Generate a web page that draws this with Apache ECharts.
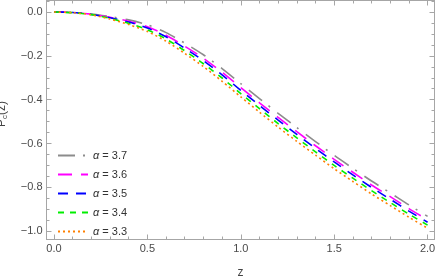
<!DOCTYPE html>
<html>
<head>
<meta charset="utf-8">
<script src="https://cdn.jsdelivr.net/npm/echarts@6/dist/echarts.min.js"></script>
<style>
html,body{margin:0;padding:0;background:#fff;}
#c{width:436px;height:276px;}
</style>
</head>
<body>
<div id="c"></div>
<script>
// z grid (x axis)
const zValues = [0.0,0.1,0.2,0.3,0.4,0.5,0.6,0.7,0.8,0.9,1.0,1.1,1.2,1.3,1.4,1.5,1.6,1.7,1.8,1.9,2.0];
// P_c(z) for each alpha
const alpha37 = [0,-0.002,-0.009,-0.021,-0.036,-0.058,-0.094,-0.142,-0.195,-0.258,-0.327,-0.395,-0.462,-0.527,-0.591,-0.654,-0.713,-0.771,-0.825,-0.880,-0.932];
const alpha36 = [0,-0.002,-0.010,-0.024,-0.042,-0.067,-0.106,-0.156,-0.211,-0.275,-0.345,-0.414,-0.481,-0.546,-0.610,-0.672,-0.731,-0.789,-0.842,-0.897,-0.948];
const alpha35 = [0,-0.002,-0.011,-0.026,-0.046,-0.073,-0.113,-0.165,-0.222,-0.287,-0.357,-0.426,-0.493,-0.558,-0.622,-0.684,-0.743,-0.800,-0.854,-0.908,-0.959];
const alpha34 = [0,-0.003,-0.012,-0.029,-0.052,-0.081,-0.123,-0.177,-0.236,-0.301,-0.372,-0.441,-0.509,-0.574,-0.638,-0.700,-0.758,-0.815,-0.869,-0.922,-0.972];
const alpha33 = [0,-0.003,-0.013,-0.032,-0.057,-0.089,-0.133,-0.189,-0.249,-0.316,-0.387,-0.457,-0.525,-0.590,-0.653,-0.715,-0.773,-0.830,-0.883,-0.936,-0.986];
const seriesNames = ['α = 3.7','α = 3.6','α = 3.5','α = 3.4','α = 3.3'];
// tick labels / positions
const xMajorTicks = [0, 0.5, 1.0, 1.5, 2.0];
const xMinorTicks = [0.1,0.2,0.3,0.4,0.6,0.7,0.8,0.9,1.1,1.2,1.3,1.4,1.6,1.7,1.8,1.9];
const yMajorTicks = [-1.0, -0.8, -0.6, -0.4, -0.2, 0.0];
const yMinorTicks = [-0.95,-0.9,-0.85,-0.75,-0.7,-0.65,-0.55,-0.5,-0.45,-0.35,-0.3,-0.25,-0.15,-0.1,-0.05,0.05];

const chart = echarts.init(document.getElementById('c'), null, {renderer:'canvas'});
const FONT = '"Liberation Sans", Arial, sans-serif';
const frameColor = '#a6a6a6';
const labelColor = '#4a4a4a';
const X_MIN = -0.04, X_MAX = 2.037, Y_MIN = -1.0377, Y_MAX = 0.0525;

function pairs(vals){ return zValues.map((z,i)=>[z, vals[i]]); }
const styles = [
  {color:'#8c8c8c', dash:[17,8,2,9]},
  {color:'#ff00ff', dash:[14,9]},
  {color:'#0000ff', dash:[10,8]},
  {color:'#00ee00', dash:[6,6]},
  {color:'#ff8000', dash:[2,3]}
];
const allVals = [alpha37, alpha36, alpha35, alpha34, alpha33];

function fmt(v){
  const s = (Math.abs(v) < 1e-9 ? 0 : v).toFixed(1);
  return s.replace('-', '\u2212');
}

const gridBox = {left:46.5, right:1.5, top:0.5, bottom:36.5, containLabel:false, outerBoundsMode:'none'};

function axis(kind, pos, grid, ticks, len, labels, extra){
  const o = {
    type:'value', gridIndex:grid, position:pos,
    min: kind==='x' ? X_MIN : Y_MIN, max: kind==='x' ? X_MAX : Y_MAX,
    axisLine:{show: grid===0, onZero:false, lineStyle:{color:frameColor, width:1}},
    splitLine:{show:false},
    axisTick:{show:true, inside:true, length:len, customValues:ticks, lineStyle:{color:frameColor, width:1}},
    axisLabel: labels ? {show:true, customValues:ticks, fontFamily:FONT, fontSize:11, color:labelColor, margin:4, formatter:fmt}
                      : {show:false}
  };
  return Object.assign(o, extra || {});
}

chart.setOption({
  animation:false,
  backgroundColor:'#fff',
  grid:[gridBox, Object.assign({}, gridBox)],
  legend:{
    orient:'vertical', left:57, top:150, padding:0,
    itemWidth:30, itemHeight:10, itemGap:8,
    itemStyle:{opacity:0, borderWidth:0},
    textStyle:{fontFamily:FONT, fontSize:11, color:'#333',
      rich:{i:{fontFamily:FONT, fontSize:11, fontStyle:'italic', color:'#333'}}},
    formatter:function(n){ return '{i|α} = ' + n.split('= ')[1]; },
    data:seriesNames
  },
  xAxis:[
    axis('x','bottom',0,xMajorTicks,5,true,{
      name:'z', nameLocation:'middle', nameGap:27,
      nameTextStyle:{fontFamily:FONT, fontSize:12, color:'#444'}}),
    axis('x','top',0,xMajorTicks,5,false),
    axis('x','bottom',1,xMinorTicks,3,false),
    axis('x','top',1,xMinorTicks,3,false)
  ],
  yAxis:[
    axis('y','left',0,yMajorTicks,5,true,{
      name:'{p|P}{s|c}{p|(z)}', nameLocation:'middle', nameGap:38, nameRotate:90,
      nameTextStyle:{fontFamily:FONT, color:'#444', padding:[0,0,0,12],
        rich:{p:{fontSize:12, fontFamily:FONT, color:'#444'},
              s:{fontSize:8, fontFamily:FONT, color:'#444', padding:[6,0,0,0]}}}}),
    axis('y','right',0,yMajorTicks,5,false),
    axis('y','left',1,yMinorTicks,3,false),
    axis('y','right',1,yMinorTicks,3,false)
  ],
  series: allVals.map((vals,i)=>({
    name:seriesNames[i], type:'line', xAxisIndex:0, yAxisIndex:0,
    data:pairs(vals), showSymbol:false, symbol:'none', smooth:0.25,
    lineStyle:{color:styles[i].color, width:1.6, type:styles[i].dash},
    itemStyle:{color:styles[i].color}
  }))
});
</script>
</body>
</html>
